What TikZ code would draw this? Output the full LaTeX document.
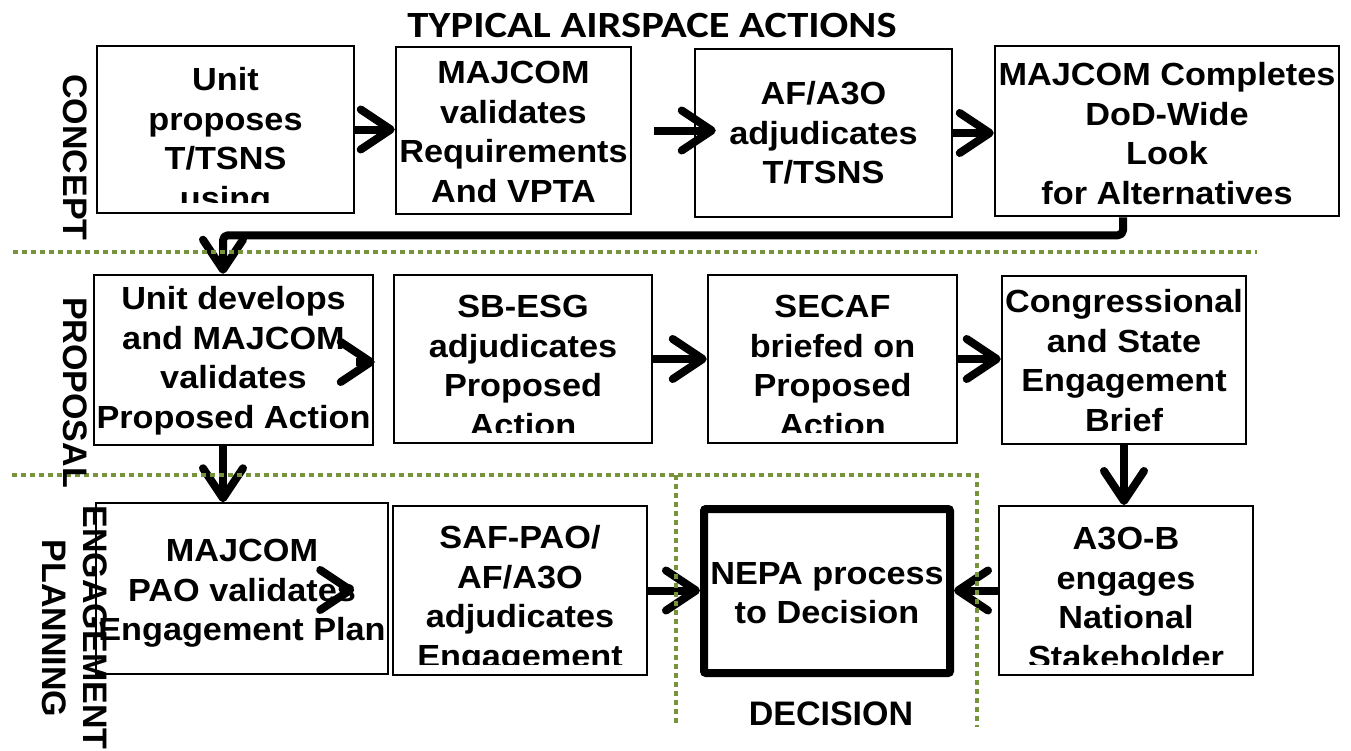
\documentclass[tikz,border=0pt]{standalone}
\usepackage{fontspec}
\usetikzlibrary{arrows.meta}
\newfontfamily\boxfont[FakeStretch=1.07]{Liberation Sans}
\newfontfamily\lblfont{Liberation Sans}
\newfontfamily\ttlfont[FakeStretch=1.15]{Carlito}
\definecolor{dotgreen}{RGB}{119,147,60}
\begin{document}
\begin{tikzpicture}[x=1pt,y=-1pt,
  box/.style={draw=black, line width=2.5pt, fill=white, inner sep=0pt},
  thinbox/.style={box, line width=1.5pt},
  nepabox/.style={box, line width=8pt, rounded corners=2pt},
  btext/.style={inner sep=0pt, align=center, anchor=north, font=\boxfont\bfseries\fontsize{32pt}{39.7pt}\selectfont},
  lbl/.style={inner sep=0pt, anchor=base, font=\lblfont\bfseries\fontsize{34pt}{40pt}\selectfont},
  arr/.style={line width=8pt, line join=round, -{Straight Barb[length=30pt, width=40pt, round]}},
  sep/.style={dotgreen, line width=4.5pt, dash pattern=on 4.5pt off 4.5pt}
]
\useasboundingbox (0,0) rectangle (1351,750);
\fill[white] (0,0) rectangle (1351,750);

% title
\node[inner sep=0pt, anchor=base, font=\ttlfont\bfseries\fontsize{37pt}{40pt}\selectfont] (title) at (652,37) {TYPICAL AIRSPACE ACTIONS};

% boxes
\node[box, minimum width=257pt, minimum height=167pt] (b1) at (225.5,129.5) {};
\node[box, minimum width=235pt, minimum height=167pt] (b2) at (513.5,130.5) {};
\node[box, minimum width=257pt, minimum height=168pt] (b3) at (823.5,133) {};
\node[box, minimum width=344pt, minimum height=170pt] (b4) at (1167,131) {};
\node[box, minimum width=279pt, minimum height=170pt] (b5) at (233.5,360) {};
\node[box, minimum width=258pt, minimum height=168pt] (b6) at (523,359) {};
\node[box, minimum width=249pt, minimum height=168pt] (b7) at (832.5,359) {};
\node[box, minimum width=244pt, minimum height=168pt] (b8) at (1124,360) {};
\node[thinbox, minimum width=292pt, minimum height=171pt] (b10) at (242,588.5) {};
\node[thinbox, minimum width=254pt, minimum height=169pt] (b11) at (520,590.5) {};
\node[nepabox, minimum width=246pt, minimum height=164pt] (b12) at (827,591) {};
\node[box, line width=2pt, minimum width=254pt, minimum height=169pt] (b13) at (1126,590.5) {};

% box texts
\begin{scope}
\clip (80,40) rectangle (370,202);
\node[btext] (t1) at (225.5,67) {Unit\\proposes\\T/TSNS\\using};
\end{scope}
\node[btext] (t2) at (513.5,61) {MAJCOM\\validates\\Requirements\\And VPTA};
\node[btext] (t3) at (823.5,81) {AF/A3O\\adjudicates\\T/TSNS};
\node[btext] (t4) at (1167,62) {MAJCOM Completes\\DoD-Wide\\Look\\for Alternatives};
\node[btext] (t5) at (233.5,286) {Unit develops\\and MAJCOM\\validates\\Proposed Action};
\begin{scope}
\clip (380,270) rectangle (1000,432);
\node[btext] (t6) at (523,295) {SB-ESG\\adjudicates\\Proposed\\Action};
\node[btext] (t7) at (832.5,295) {SECAF\\briefed on\\Proposed\\Action};
\end{scope}
\node[btext] (t8) at (1124,289) {Congressional\\and State\\Engagement\\Brief};
\node[btext] (t10) at (242,539) {MAJCOM\\PAO validates\\Engagement Plan};
\begin{scope}
\clip (380,500) rectangle (1300,664);
\node[btext] (t11) at (520,525) {SAF-PAO/\\AF/A3O\\adjudicates\\Engagement};
\node[btext] (t13) at (1126,527) {A3O-B\\engages\\National\\Stakeholder};
\end{scope}
\node[btext] (t12) at (827,562) {NEPA process\\to Decision};

% connectors
\draw[arr] (b1.east) -- (b1.east -| b2.west);
\draw[arr] ([xshift=22pt]b2.east) -- ([xshift=22pt]b2.east -| b3.west);
\draw[arr] (b3.east) -- (b3.east -| b4.west);
\draw[arr, rounded corners=5pt] ([xshift=-44pt]b4.south) -- ++(0,18) -| ([xshift=-10.5pt]b5.north);
\draw[arr] ([xshift=-18pt,yshift=-2pt]b5.east) -- ([xshift=-18pt,yshift=-2pt]b5.east -| b6.west);
\draw[arr] (b6.east) -- (b6.east -| b7.west);
\draw[arr] (b7.east) -- (b7.east -| b8.west);
\draw[arr] ([xshift=-10.5pt]b5.south) -- ([xshift=-10.5pt]b5.south |- b10.north);
\draw[arr] (b8.south) -- (b8.south |- b13.north);
\draw[arr] ([xshift=-38pt,yshift=-1.5pt]b10.east) -- ([xshift=-38pt,yshift=-1.5pt]b10.east -| b11.west);
\draw[arr] (b11.east) -- (b11.east -| b12.west);
\draw[arr] (b13.west) -- (b13.west -| b12.east);

% dotted separators
\draw[sep] (13,252) -- (1257,252);
\draw[sep] (12,475) -- (977,475) -- (977,727);
\draw[sep] (676,475) -- (676,727);

% labels
\node[lbl, rotate=-90] (lconcept) at (63,157.5) {CONCEPT};
\node[lbl, rotate=-90] (lproposal) at (63,392.5) {PROPOSAL};
\node[lbl, rotate=-90] (lengage) at (83,627.5) {ENGAGEMENT};
\node[lbl, rotate=-90] (lplanning) at (42,628.5) {PLANNING};
\node[lbl] (ldecision) at (831,725) {DECISION};
\end{tikzpicture}
\end{document}
